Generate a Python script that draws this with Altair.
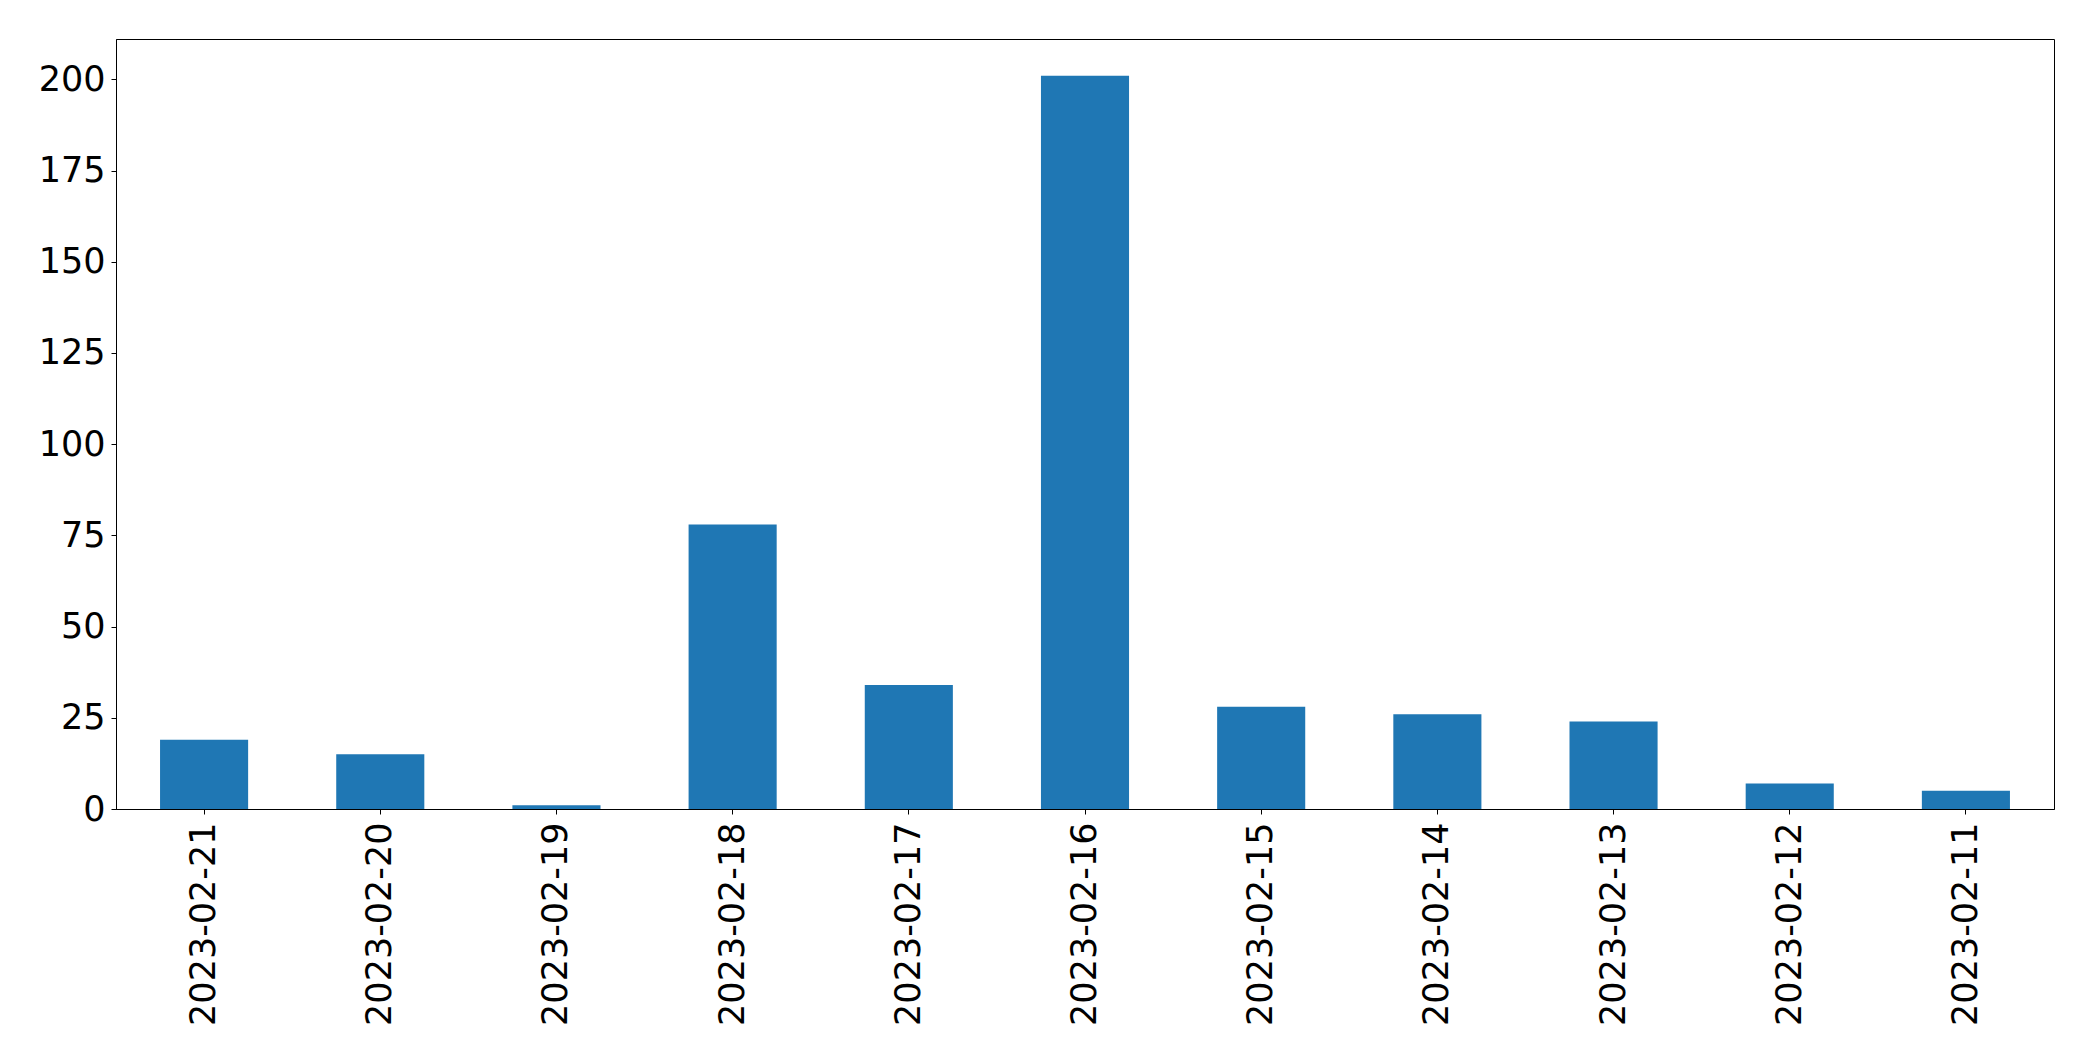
import altair as alt
import pandas as pd

dates = ["2023-02-21", "2023-02-20", "2023-02-19", "2023-02-18", "2023-02-17", "2023-02-16",
         "2023-02-15", "2023-02-14", "2023-02-13", "2023-02-12", "2023-02-11"]
counts = [19, 15, 1, 78, 34, 201, 28, 26, 24, 7, 5]
y_ticks = [0, 25, 50, 75, 100, 125, 150, 175, 200]

df = pd.DataFrame({"date": dates, "count": counts})

chart = alt.Chart(df).mark_bar(color="#1f77b4").encode(
    x=alt.X("date:N", sort=dates, title=None,
            scale=alt.Scale(paddingInner=0.5, paddingOuter=0.25),
            axis=alt.Axis(labelAngle=270, labelFontSize=35, labelFont="DejaVu Sans",
                          labelColor="black", tickColor="black", tickSize=5,
                          domainColor="black", labelPadding=8, labelLimit=400)),
    y=alt.Y("count:Q", title=None,
            scale=alt.Scale(domain=[0, 211.05], nice=False),
            axis=alt.Axis(values=y_ticks, labelFontSize=35, labelFont="DejaVu Sans",
                          labelColor="black", tickColor="black", tickSize=5,
                          domainColor="black", grid=False, labelPadding=6)),
).properties(
    width=1938, height=770,
    padding={"left": 108, "top": 31, "right": 30, "bottom": 230},
    autosize=alt.AutoSizeParams(type="none"),
).configure_view(stroke="black", strokeWidth=1).configure_axis(domainWidth=1, tickWidth=1)

chart.save("out.html", embed_options={"renderer": "svg", "actions": False})
